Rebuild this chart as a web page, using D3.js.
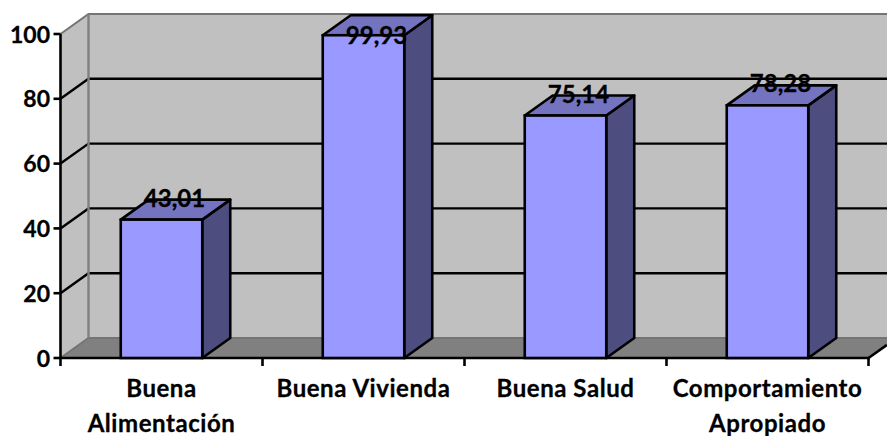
<!DOCTYPE html>
<html><head><meta charset="utf-8">
<script src="https://cdn.jsdelivr.net/npm/d3@7/dist/d3.min.js"></script>
<style>html,body{margin:0;padding:0;background:#fff}svg{display:block}text{font-family:Lato,sans-serif;font-weight:700;fill:#000;stroke:#000;stroke-width:0.3px}</style>
</head><body><svg id="c" width="887" height="436"></svg>
<script>
const categories = ["Buena Alimentación", "Buena Vivienda", "Buena Salud", "Comportamiento Apropiado"];
const categoryLines = [["Buena","Alimentación"],["Buena Vivienda"],["Buena Salud"],["Comportamiento","Apropiado"]];
const values = [43.01, 99.93, 75.14, 78.28];
const valueLabels = ["43,01","99,93","75,14","78,28"];
const yTicks = [0,20,40,60,80,100];

const svg = d3.select("#c");
const dx = 28, dy = -20;
const y = d3.scaleLinear().domain([0,100]).range([358,34]);
const x = d3.scaleBand().domain(categories).range([60.5,868.5]).paddingInner(0).paddingOuter(0);
const barW = 81.5;
const path = pts => "M" + pts.map(p=>p.join(",")).join("L") + "Z";
const x0 = x.range()[0], x1 = x.range()[1];
const lw = 2.6;

// walls
svg.append("path").attr("d",path([[x0+dx,y(100)+dy],[887,y(100)+dy],[887,y(0)+dy],[x0+dx,y(0)+dy]])).attr("fill","#c0c0c0");
svg.append("path").attr("d",path([[x0,y(100)],[x0+dx,y(100)+dy],[x0+dx,y(0)+dy],[x0,y(0)]])).attr("fill","#c0c0c0");
// floor
svg.append("path").attr("d",path([[x0,y(0)],[x0+dx,y(0)+dy],[887,y(0)+dy],[887,y(0)+dy+6],[x1,y(0)]])).attr("fill","#808080");

// gridlines and wall edges
yTicks.forEach(t=>{
  const edge = t===0||t===100;
  svg.append("path").attr("d",`M${x0},${y(t)}L${x0+dx},${y(t)+dy}L887,${y(t)+dy}`)
    .attr("fill","none").attr("stroke",edge?"#747474":"#000").attr("stroke-width",edge?2:2.4);
});
svg.append("line").attr("x1",x0+dx).attr("x2",x0+dx).attr("y1",y(100)+dy).attr("y2",y(0)+dy).attr("stroke","#808080").attr("stroke-width",2.4);
svg.append("line").attr("x1",x1).attr("x2",887).attr("y1",y(0)).attr("y2",y(0)-(887-x1)*(-dy/dx)).attr("stroke","#000").attr("stroke-width",lw);

// axis
svg.append("line").attr("x1",x0).attr("x2",x0).attr("y1",y(100)).attr("y2",y(0)+8).attr("stroke","#000").attr("stroke-width",lw);
svg.append("line").attr("x1",x0).attr("x2",x1+1).attr("y1",y(0)).attr("y2",y(0)).attr("stroke","#000").attr("stroke-width",lw);
yTicks.forEach(t=>{
  svg.append("line").attr("x1",x0-7).attr("x2",x0).attr("y1",y(t)).attr("y2",y(t)).attr("stroke","#000").attr("stroke-width",lw);
  svg.append("text").attr("x",x0-10.5).attr("y",y(t)+8.5).attr("text-anchor","end").attr("font-size",23).text(t);
});
categories.forEach(c=>{
  const p = x(c)+x.bandwidth();
  svg.append("line").attr("x1",p).attr("x2",p).attr("y1",y(0)).attr("y2",y(0)+8).attr("stroke","#000").attr("stroke-width",lw);
});

// bars (tops sit one pixel below the gridline position, as in the source rendering)
categories.forEach((c,i)=>{
  const l = x(c)+(x.bandwidth()-barW)/2 , r = l+barW, t = y(values[i])+1, b = y(0);
  svg.append("path").attr("d",path([[r,t],[r+dx,t+dy],[r+dx,b+dy],[r,b]])).attr("fill","#4d4d80").attr("stroke","#000").attr("stroke-width",lw).attr("stroke-linejoin","round");
  svg.append("path").attr("d",path([[l,t],[l+dx,t+dy],[r+dx,t+dy],[r,t]])).attr("fill","#7373bf").attr("stroke","#000").attr("stroke-width",lw).attr("stroke-linejoin","round");
  svg.append("rect").attr("x",l).attr("y",t).attr("width",barW).attr("height",b-t).attr("fill","#9999ff").attr("stroke","#000").attr("stroke-width",lw);
});
// value labels (a label that would rise above the back wall sits on the bar's front edge instead)
categories.forEach((c,i)=>{
  const cx = x(c)+x.bandwidth()/2+13;
  const above = y(values[i])-12;
  const ly = above < y(100)+dy+12 ? y(values[i])+10 : above;
  svg.append("text").attr("x",cx).attr("y",ly).attr("text-anchor","middle").attr("font-size",24).text(valueLabels[i]);
});
// category labels
categories.forEach((c,i)=>{
  categoryLines[i].forEach((s,j)=>{
    svg.append("text").attr("x",x(c)+x.bandwidth()/2).attr("y",396.5+j*35).attr("text-anchor","middle").attr("font-size",24).attr("letter-spacing",0.55).text(s);
  });
});
</script></body></html>
